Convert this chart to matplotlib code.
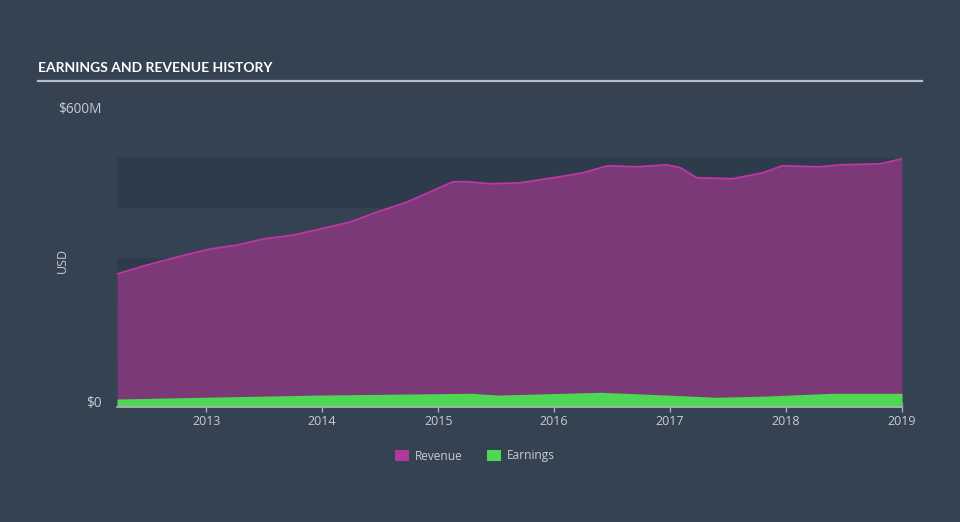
import matplotlib
matplotlib.use("Agg")
import matplotlib.pyplot as plt
from matplotlib.patches import Patch
from matplotlib.lines import Line2D

# ---- data (values in $M, dates as decimal years) ----
rev_dates = [2012.23, 2012.46, 2012.75, 2013.03, 2013.27, 2013.49, 2013.75, 2013.98,
             2014.24, 2014.47, 2014.73, 2015.02, 2015.13, 2015.25, 2015.45, 2015.71,
             2016.05, 2016.25, 2016.46, 2016.72, 2016.97, 2017.09, 2017.23, 2017.54,
             2017.80, 2017.97, 2018.29, 2018.47, 2018.81, 2019.0]
revenue = [267, 283, 301, 317, 325, 337, 345, 357,
           371, 391, 411, 441, 452, 452, 448, 450,
           462, 470, 484, 482, 486, 480, 460, 458,
           470, 484, 482, 486, 488, 498]

earn_dates = [2012.23, 2012.97, 2013.98, 2014.99, 2015.28, 2015.47, 2015.53, 2016.40,
              2016.97, 2017.40, 2017.83, 2018.40, 2018.98, 2019.0]
earnings = [16, 19.5, 24, 26.7, 27.5, 24.7, 24, 29.5,
            24, 19.5, 22, 27.5, 27.5, 27.5]

year_ticks = [2013, 2014, 2015, 2016, 2017, 2018, 2019]
year_labels = ["2013", "2014", "2015", "2016", "2017", "2018", "2019"]
y_ticks = [0, 600]
y_labels = ["$0", "$600M"]
title = "EARNINGS AND REVENUE HISTORY"

# ---- style ----
BG = "#344252"
BAND = "#2e3b4a"
REV_FILL = "#7b3a77"
REV_LINE = "#c035a8"
EARN = "#4fd655"
TXT = "#c8ccd2"

plt.rcParams['font.family'] = ['Open Sans', 'DejaVu Sans']

fig = plt.figure(figsize=(9.6, 5.22), dpi=100, facecolor=BG)
ax = fig.add_axes([117/960, 1-407/522, (902-117)/960, (407-108)/522])
ax.set_facecolor(BG)

# alternating bands
for lo in (0, 200, 400):
    ax.axhspan(lo, lo + 100, color=BAND, zorder=0, lw=0)

ax.fill_between(rev_dates, revenue, 0, color=REV_FILL, lw=0, zorder=2)
ax.plot(rev_dates, revenue, color=REV_LINE, lw=1.3, zorder=3)
ax.fill_between(earn_dates, earnings, 0, color=EARN, lw=0, zorder=4)

ax.set_xlim(2012.23, 2019.0)
ax.set_ylim(0, 600)

for s in ("top", "right", "left"):
    ax.spines[s].set_visible(False)
ax.spines["bottom"].set_color("#aab2bd")
ax.spines["bottom"].set_linewidth(1.2)
ax.spines["bottom"].set_zorder(5)

ax.set_xticks(year_ticks)
ax.set_xticklabels(year_labels)
ax.tick_params(axis="x", colors="#aab2bd", labelcolor=TXT, labelsize=9,
               length=7, width=1, direction="inout", pad=2)
ax.set_yticks(y_ticks)
ax.set_yticklabels(y_labels)
ax.tick_params(axis="y", length=0, labelcolor=TXT, labelsize=9.8, pad=11)
ax.get_yticklabels()[0].set_va("baseline")
ax.set_ylabel("USD", color=TXT, fontsize=9)
ax.yaxis.set_label_coords((69-117)/785, (407-260)/299)

# title and underline
fig.text(38/960, 1-68/522, title, color="white", fontsize=10, fontweight="bold",
         family=["Liberation Sans Narrow", "Lato"], va="center", ha="left")
fig.add_artist(Line2D([38/960, 922/960], [1-81/522, 1-81/522], color="#b8bcc4", lw=1.6))

handles = [Patch(facecolor="#b0399e", edgecolor="none", label="Revenue"),
           Patch(facecolor=EARN, edgecolor="none", label="Earnings")]
leg = fig.legend(handles=handles, loc="center", bbox_to_anchor=(475/960, 1-456/522),
                 ncol=2, frameon=False, fontsize=8.6, handlelength=1.2, handleheight=1.0,
                 handletextpad=0.5, columnspacing=2.0)
for t in leg.get_texts():
    t.set_color(TXT)

fig.savefig("out.png", dpi=100, facecolor=BG)
